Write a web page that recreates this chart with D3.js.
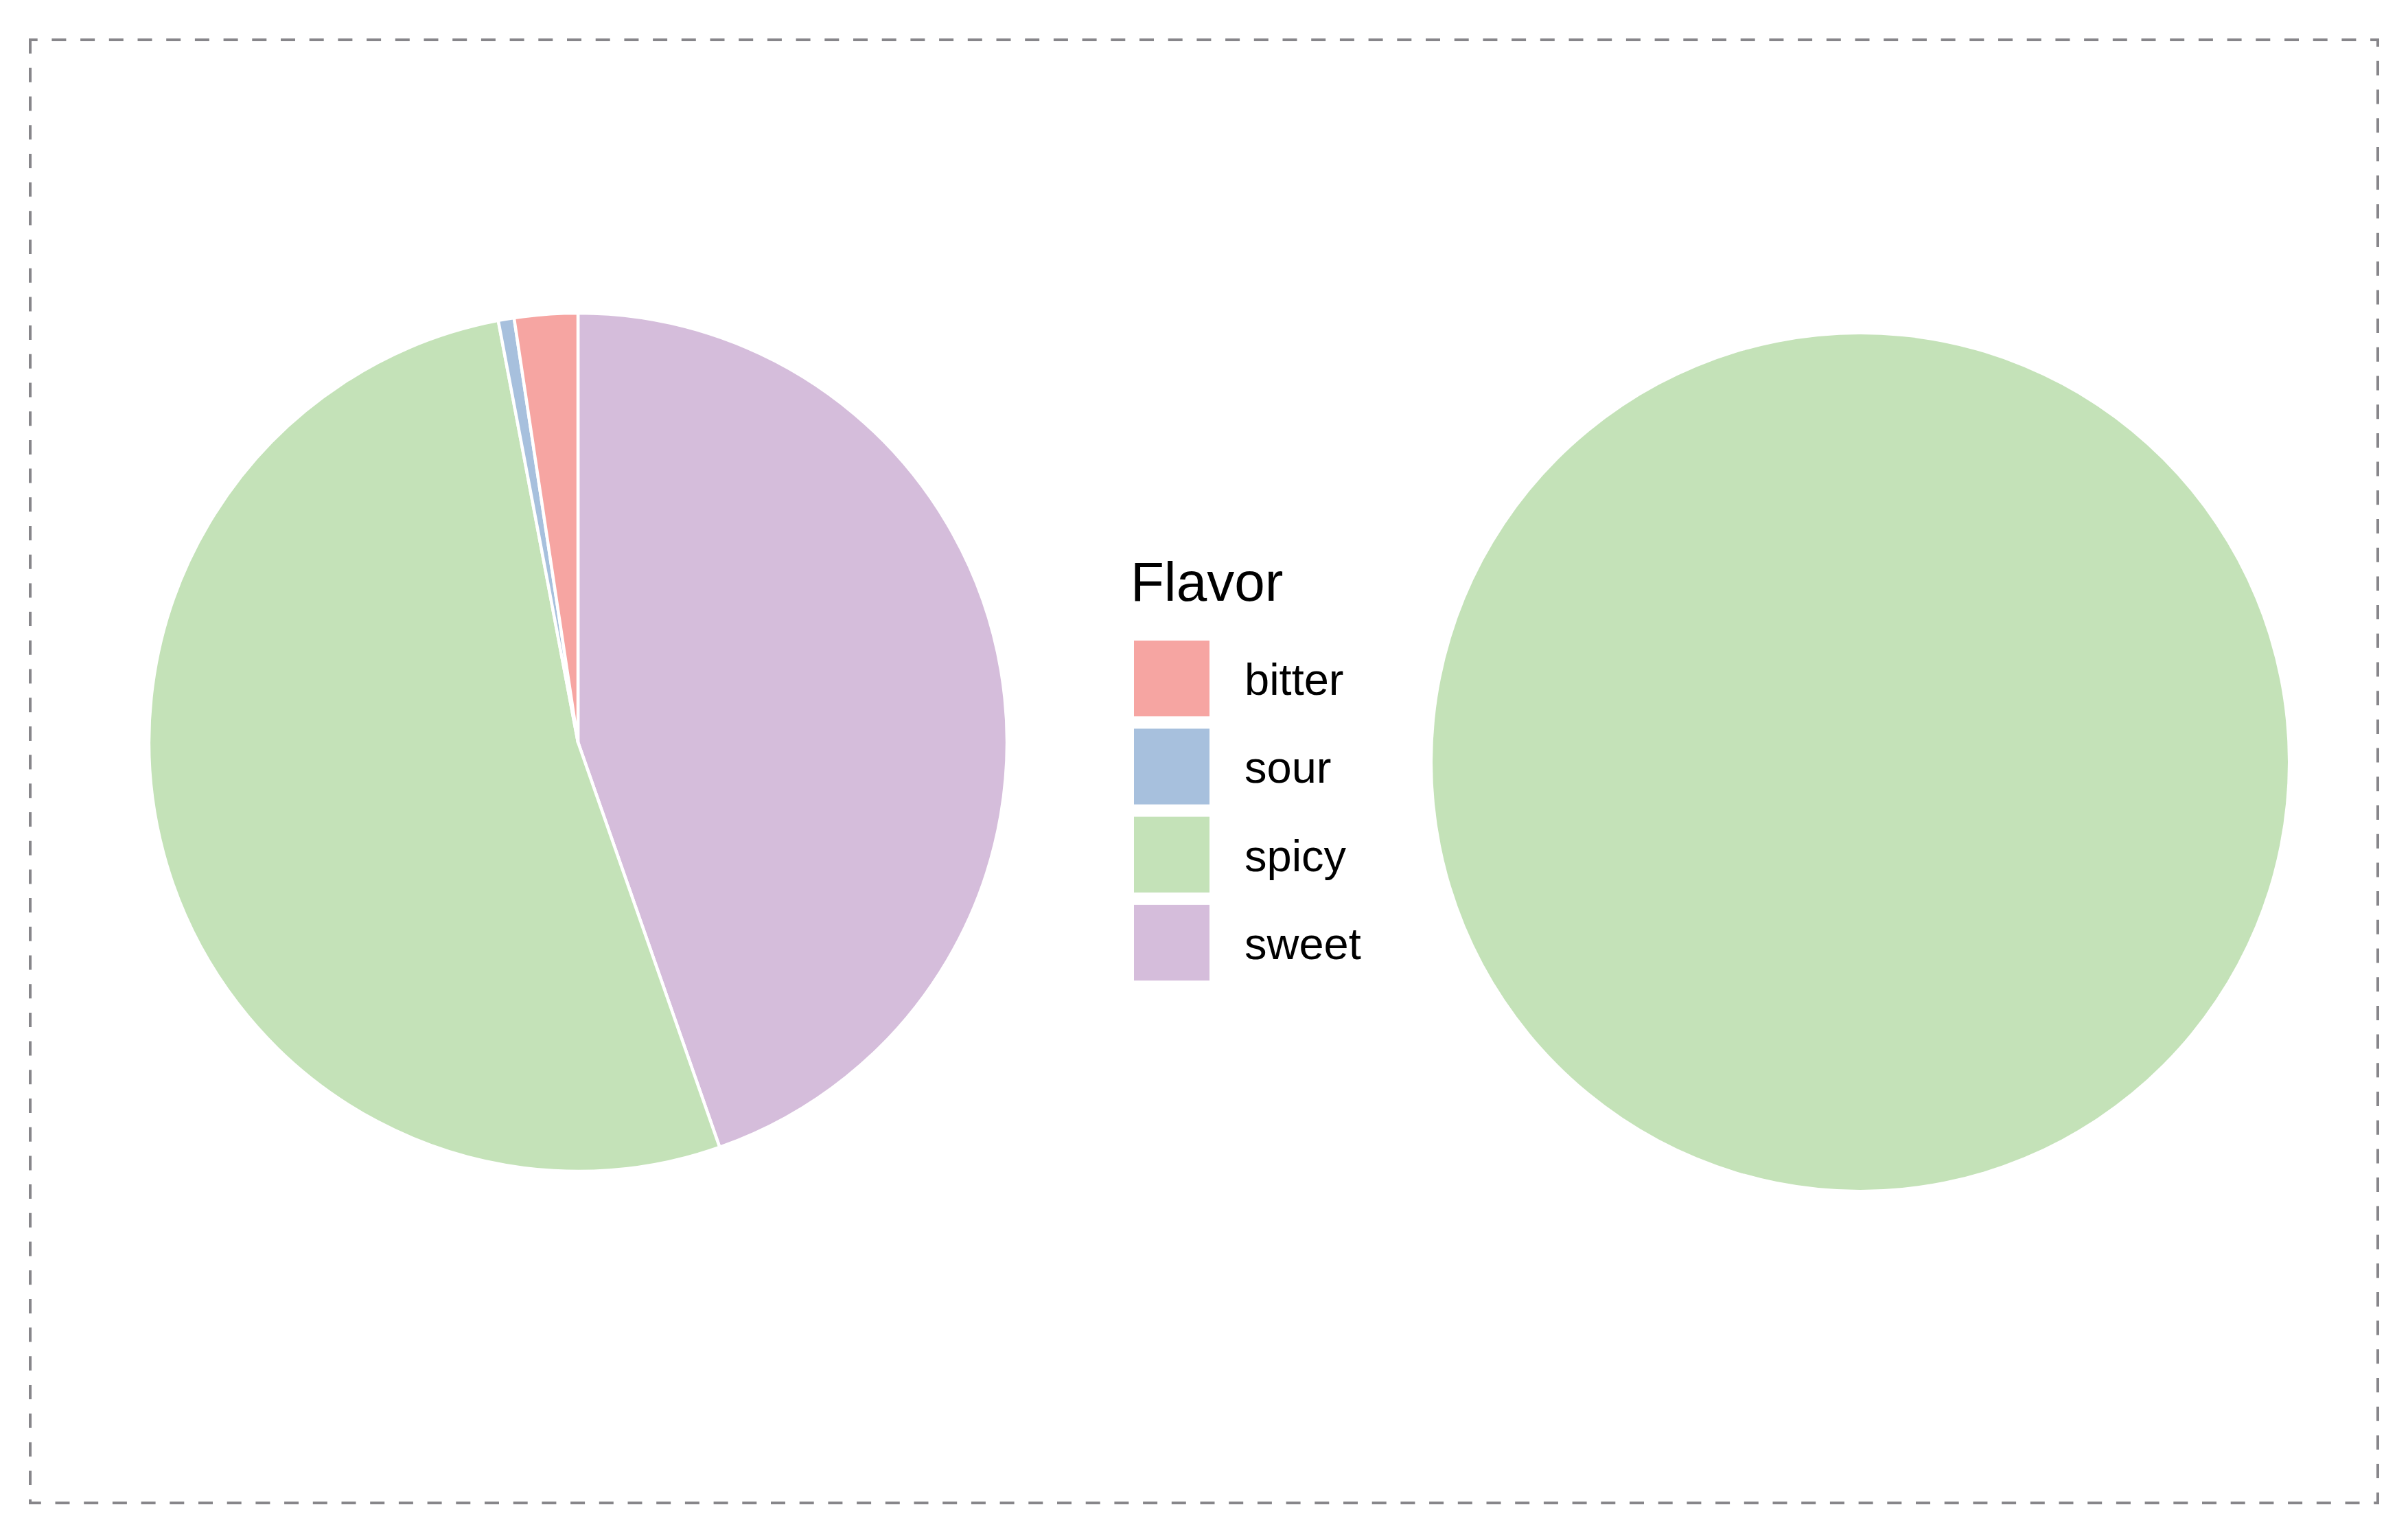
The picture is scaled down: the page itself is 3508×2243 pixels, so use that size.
<!DOCTYPE html>
<html>
<head>
<meta charset="utf-8">
<script src="https://cdn.jsdelivr.net/npm/d3@7"></script>
<style>
  html, body { margin: 0; padding: 0; background: #fff; }
  svg { display: block; font-family: "Liberation Sans", Arial, sans-serif; }
</style>
</head>
<body>
<div id="chart"></div>
<script>
// data
const flavors = ["bitter", "sour", "spicy", "sweet"];
const flavorColors = ["#F6A5A2", "#A7C0DD", "#C4E2B8", "#D5BDDB"];
const leftCounts = [4, 1, 88, 75];
const rightCounts = [0, 0, 40, 0];
const legendTitle = "Flavor";

function renderChart() {
  let dimensions = {
    width: 3508,
    height: 2243
  };

  const svg = d3.select("#chart")
    .append("svg")
    .attr("width", dimensions.width)
    .attr("height", dimensions.height);

  // dashed frame
  svg.append("rect")
    .attr("x", 44)
    .attr("y", 58)
    .attr("width", 3420)
    .attr("height", 2131)
    .attr("fill", "none")
    .attr("stroke", "#87868a")
    .attr("stroke-width", 4)
    .attr("stroke-dasharray", "21 20.7")
    .attr("stroke-dashoffset", 10.3);

  const color = d3.scaleOrdinal()
    .domain(flavors)
    .range(flavorColors);

  // pies go clockwise from 12 o'clock in reverse factor order
  const pie = d3.pie()
    .sort(null)
    .value(d => d.value);

  const panels = [
    { counts: leftCounts, cx: 842, cy: 1081, r: 625 },
    { counts: rightCounts, cx: 2710, cy: 1110, r: 623 }
  ];

  panels.forEach(p => {
    const rows = flavors.map((f, i) => ({ flavor: f, value: p.counts[i] }))
      .filter(d => d.value > 0)
      .reverse();

    const arc = d3.arc()
      .innerRadius(0)
      .outerRadius(p.r);

    const g = svg.append("g")
      .attr("transform", `translate(${p.cx}, ${p.cy})`);

    g.selectAll("path")
      .data(pie(rows))
      .join("path")
      .attr("d", arc)
      .attr("fill", d => color(d.data.flavor))
      .attr("stroke", rows.length > 1 ? "#fff" : "none")
      .attr("stroke-width", 4.5)
      .attr("stroke-linejoin", "round");
  });

  // legend
  const legend = svg.append("g")
    .attr("transform", "translate(1647, 875)");

  legend.append("text")
    .attr("x", 0)
    .attr("y", 0)
    .attr("font-size", 80)
    .attr("fill", "#000")
    .text(legendTitle);

  const step = 128.3, gap = 18;
  const keyY = d3.scaleBand()
    .domain(flavors)
    .range([58, 58 + step * flavors.length - gap])
    .paddingInner(gap / step)
    .paddingOuter(0);

  const keys = legend.selectAll("g.key")
    .data(flavors)
    .join("g")
    .attr("class", "key")
    .attr("transform", d => `translate(5, ${keyY(d)})`);

  keys.append("rect")
    .attr("width", 110)
    .attr("height", keyY.bandwidth())
    .attr("fill", d => color(d));

  keys.append("text")
    .attr("x", 161)
    .attr("y", keyY.bandwidth() / 2 + 24)
    .attr("font-size", 65)
    .attr("fill", "#000")
    .text(d => d);
}

renderChart();
</script>
</body>
</html>
